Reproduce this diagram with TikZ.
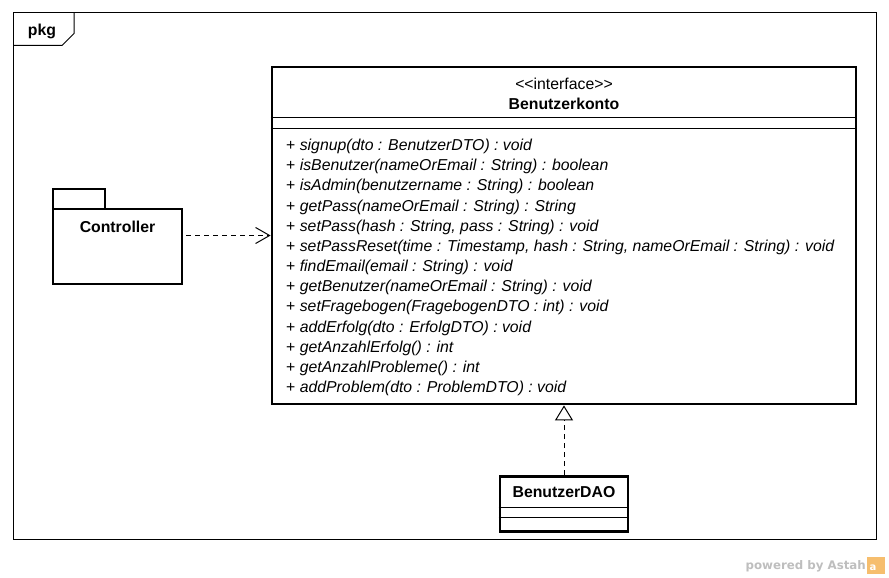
\documentclass[tikz,border=0pt]{standalone}
\usepackage{fontspec}
\setmainfont{Liberation Sans}
\newfontfamily\astahfont{DejaVu Sans}
\usetikzlibrary{arrows.meta,positioning}
\definecolor{astahgray}{RGB}{190,190,190}
\definecolor{astahocre}{RGB}{246,190,110}
\newcommand\umlsize{\fontsize{15.8}{18}\selectfont}

\tikzset{
  umlbox/.style={draw=black,line width=2.8pt,fill=white,inner sep=0pt},
  umltext/.style={font=\umlsize,inner sep=0pt},
  umlname/.style={font=\umlsize\bfseries,inner sep=0pt},
  method/.style={umltext,anchor=base west},
  separator/.style={line width=1pt},
  dependency/.style={dash pattern=on 5pt off 4pt,line width=1pt,-{Straight Barb[length=14pt,width=16pt,line width=1pt]}},
  realization/.style={dash pattern=on 5pt off 4pt,line width=1pt,-{Triangle[fill=white,length=15pt,width=18pt,line width=1pt]}}
}

\begin{document}
\begin{tikzpicture}[x=1pt,y=-1pt]
\useasboundingbox (0,0) rectangle (889,578);

% frame
\draw [line width=1pt] (13,13) rectangle (876,539);
\draw [line width=1pt] (13,45.5)--(62,45.5)--(74,33.5)--(74,13);
\node[umlname] (pkglabel) at (42,31.5) {pkg};

% package Controller
\node[umlbox,minimum width=52pt,minimum height=20pt] (ctrltab) at (79,199) {};
\node[umlbox,minimum width=129pt,minimum height=75pt] (ctrl) at (117.5,246.5) {};
\node[umlname] (ctrlname) at (117.5,227) {Controller};

% interface
\node[umlbox,minimum width=584pt,minimum height=337pt] (konto) at (564,235.5) {};
\node[umltext] (stereo) at (564,84) {<\kern0pt<interface>\kern0pt>};
\node[umlname] (kontoname) at (564,104) {Benutzerkonto};
\draw [separator] (konto.west |- 0,117.5)--(konto.east |- 0,117.5);
\draw [separator] (konto.west |- 0,128.5)--(konto.east |- 0,128.5);
\foreach \sig [count=\i from 0] in {{signup(dto : BenutzerDTO) : void},
  {isBenutzer(nameOrEmail : String) : boolean},
  {isAdmin(benutzername : String) : boolean},
  {getPass(nameOrEmail : String) : String},
  {setPass(hash : String, pass : String) : void},
  {setPassReset(time : Timestamp, hash : String, nameOrEmail : String) : void},
  {findEmail(email : String) : void},
  {getBenutzer(nameOrEmail : String) : void},
  {setFragebogen(FragebogenDTO : int) : void},
  {addErfolg(dto : ErfolgDTO) : void},
  {getAnzahlErfolg() : int},
  {getAnzahlProbleme() : int},
  {addProblem(dto : ProblemDTO) : void}}
  \node[method] (op\i) at (286,{150.5+20.17*\i}) {+ \textit{\sig}};

% class
\node[umlbox,minimum width=128pt,minimum height=55pt] (dao) at (564,504) {};
\node[umlname] (daoname) at (564,492) {BenutzerDAO};
\draw [separator] (dao.west |- 0,507.5)--(dao.east |- 0,507.5);
\draw [separator] (dao.west |- 0,517.5)--(dao.east |- 0,517.5);

% relations
\draw [dependency,shorten <=2.6pt] (ctrl.east |- konto.west)--(konto.west);
\draw [realization] (dao.north)--(dao.north |- konto.south);

\node[font=\astahfont\bfseries\fontsize{11.8}{13}\selectfont,text=astahgray,anchor=base east,inner sep=0pt] (powered) at (866,569.3) {powered by Astah};
\node[fill=astahocre,minimum width=18pt,minimum height=17pt,inner sep=0pt] (logo) at (876,565) {};
\node[font=\astahfont\bfseries\fontsize{10}{10}\selectfont,text=white,inner sep=0pt] (logoa) at (873,567.5) {a};
\end{tikzpicture}
\end{document}
